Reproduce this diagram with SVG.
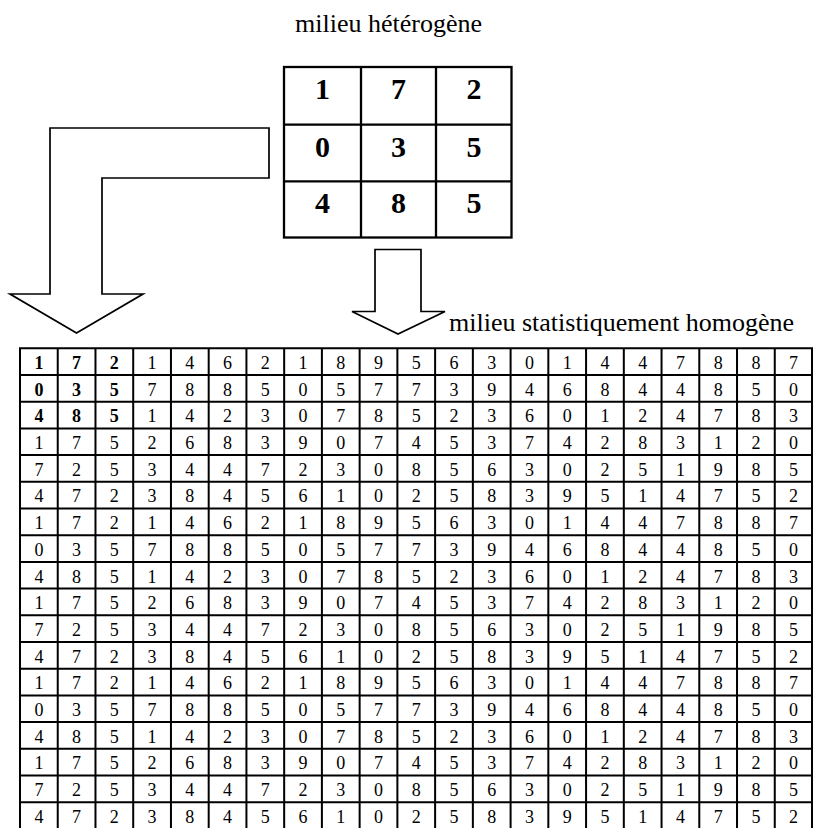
<svg xmlns="http://www.w3.org/2000/svg" width="813" height="828" viewBox="0 0 813 828">
<style>
text{font-family:'Liberation Serif','DejaVu Serif','Noto Serif',serif}
.lbl{font-size:26px;fill:#000}
.big{font-size:30px;font-weight:bold;text-anchor:middle;fill:#000}
.c text{font-size:18px;text-anchor:middle;fill:#000}
.c .b{font-weight:bold}
.grid{fill:none;stroke:#000;stroke-width:2}
.arrow{fill:#fff;stroke:#000;stroke-width:1.7;stroke-linejoin:miter}
</style>
<rect width="813" height="828" fill="#fff"/>

<g id="label-heterogene">
<text class="lbl" x="295" y="32" font-family="Liberation Serif, DejaVu Serif, serif">milieu hétérogène</text>
</g>

<g id="milieu-heterogene" font-family="Liberation Serif, DejaVu Serif, serif">
<rect class="grid" x="284" y="67" width="227.5" height="170.5" style="stroke-width:2.3"/>
<path class="grid" style="stroke-width:2.3" d="M361 67V237.5M436 67V237.5M284 124.7H511.5M284 181.3H511.5"/>
<text class="big" x="322.5" y="98.5">1</text>
<text class="big" x="398.5" y="98.5">7</text>
<text class="big" x="474" y="98.5">2</text>
<text class="big" x="322.5" y="156.5">0</text>
<text class="big" x="398.5" y="156.5">3</text>
<text class="big" x="474" y="156.5">5</text>
<text class="big" x="322.5" y="212.8">4</text>
<text class="big" x="398.5" y="212.8">8</text>
<text class="big" x="474" y="212.8">5</text>
</g>

<g id="connectors">
<polygon id="arrow-bent" class="arrow" points="269,128 50,128 50,294 10,294 76.5,333 143,294 102,294 102,178 269,178"/>
<polygon id="arrow-down" class="arrow" points="375,249.5 421,249.5 421,311.5 445,311.5 398,334 352,311.5 375,311.5"/>
</g>

<g id="label-homogene">
<text class="lbl" x="449" y="331" font-family="Liberation Serif, DejaVu Serif, serif">milieu statistiquement homogène</text>
</g>

<g id="milieu-homogene">
<path class="grid" d="M20 348.3V830M57.74 348.3V830M95.48 348.3V830M133.21 348.3V830M170.95 348.3V830M208.69 348.3V830M246.43 348.3V830M284.17 348.3V830M321.9 348.3V830M359.64 348.3V830M397.38 348.3V830M435.12 348.3V830M472.86 348.3V830M510.6 348.3V830M548.33 348.3V830M586.07 348.3V830M623.81 348.3V830M661.55 348.3V830M699.29 348.3V830M737.02 348.3V830M774.76 348.3V830M812 348.3V830
M19 348.3H813M19 375H813M19 401.7H813M19 428.4H813M19 455.1H813M19 481.8H813M19 508.5H813M19 535.2H813M19 561.9H813M19 588.6H813M19 615.3H813M19 642H813M19 668.7H813M19 695.4H813M19 722.1H813M19 748.8H813M19 775.5H813M19 802.2H813M19 828.9H813"/>
<g class="c" font-family="Liberation Serif, DejaVu Serif, serif">
<g transform="translate(0,368.9)"><text class="b" x="38.9">1</text><text class="b" x="76.6">7</text><text class="b" x="114.3">2</text><text x="152.1">1</text><text x="189.8">4</text><text x="227.6">6</text><text x="265.3">2</text><text x="303">1</text><text x="340.8">8</text><text x="378.5">9</text><text x="416.3">5</text><text x="454">6</text><text x="491.7">3</text><text x="529.5">0</text><text x="567.2">1</text><text x="604.9">4</text><text x="642.7">4</text><text x="680.4">7</text><text x="718.2">8</text><text x="755.9">8</text><text x="793.6">7</text></g>
<g transform="translate(0,395.6)"><text class="b" x="38.9">0</text><text class="b" x="76.6">3</text><text class="b" x="114.3">5</text><text x="152.1">7</text><text x="189.8">8</text><text x="227.6">8</text><text x="265.3">5</text><text x="303">0</text><text x="340.8">5</text><text x="378.5">7</text><text x="416.3">7</text><text x="454">3</text><text x="491.7">9</text><text x="529.5">4</text><text x="567.2">6</text><text x="604.9">8</text><text x="642.7">4</text><text x="680.4">4</text><text x="718.2">8</text><text x="755.9">5</text><text x="793.6">0</text></g>
<g transform="translate(0,422.3)"><text class="b" x="38.9">4</text><text class="b" x="76.6">8</text><text class="b" x="114.3">5</text><text x="152.1">1</text><text x="189.8">4</text><text x="227.6">2</text><text x="265.3">3</text><text x="303">0</text><text x="340.8">7</text><text x="378.5">8</text><text x="416.3">5</text><text x="454">2</text><text x="491.7">3</text><text x="529.5">6</text><text x="567.2">0</text><text x="604.9">1</text><text x="642.7">2</text><text x="680.4">4</text><text x="718.2">7</text><text x="755.9">8</text><text x="793.6">3</text></g>
<g transform="translate(0,449)"><text x="38.9">1</text><text x="76.6">7</text><text x="114.3">5</text><text x="152.1">2</text><text x="189.8">6</text><text x="227.6">8</text><text x="265.3">3</text><text x="303">9</text><text x="340.8">0</text><text x="378.5">7</text><text x="416.3">4</text><text x="454">5</text><text x="491.7">3</text><text x="529.5">7</text><text x="567.2">4</text><text x="604.9">2</text><text x="642.7">8</text><text x="680.4">3</text><text x="718.2">1</text><text x="755.9">2</text><text x="793.6">0</text></g>
<g transform="translate(0,475.7)"><text x="38.9">7</text><text x="76.6">2</text><text x="114.3">5</text><text x="152.1">3</text><text x="189.8">4</text><text x="227.6">4</text><text x="265.3">7</text><text x="303">2</text><text x="340.8">3</text><text x="378.5">0</text><text x="416.3">8</text><text x="454">5</text><text x="491.7">6</text><text x="529.5">3</text><text x="567.2">0</text><text x="604.9">2</text><text x="642.7">5</text><text x="680.4">1</text><text x="718.2">9</text><text x="755.9">8</text><text x="793.6">5</text></g>
<g transform="translate(0,502.4)"><text x="38.9">4</text><text x="76.6">7</text><text x="114.3">2</text><text x="152.1">3</text><text x="189.8">8</text><text x="227.6">4</text><text x="265.3">5</text><text x="303">6</text><text x="340.8">1</text><text x="378.5">0</text><text x="416.3">2</text><text x="454">5</text><text x="491.7">8</text><text x="529.5">3</text><text x="567.2">9</text><text x="604.9">5</text><text x="642.7">1</text><text x="680.4">4</text><text x="718.2">7</text><text x="755.9">5</text><text x="793.6">2</text></g>
<g transform="translate(0,529.1)"><text x="38.9">1</text><text x="76.6">7</text><text x="114.3">2</text><text x="152.1">1</text><text x="189.8">4</text><text x="227.6">6</text><text x="265.3">2</text><text x="303">1</text><text x="340.8">8</text><text x="378.5">9</text><text x="416.3">5</text><text x="454">6</text><text x="491.7">3</text><text x="529.5">0</text><text x="567.2">1</text><text x="604.9">4</text><text x="642.7">4</text><text x="680.4">7</text><text x="718.2">8</text><text x="755.9">8</text><text x="793.6">7</text></g>
<g transform="translate(0,555.8)"><text x="38.9">0</text><text x="76.6">3</text><text x="114.3">5</text><text x="152.1">7</text><text x="189.8">8</text><text x="227.6">8</text><text x="265.3">5</text><text x="303">0</text><text x="340.8">5</text><text x="378.5">7</text><text x="416.3">7</text><text x="454">3</text><text x="491.7">9</text><text x="529.5">4</text><text x="567.2">6</text><text x="604.9">8</text><text x="642.7">4</text><text x="680.4">4</text><text x="718.2">8</text><text x="755.9">5</text><text x="793.6">0</text></g>
<g transform="translate(0,582.5)"><text x="38.9">4</text><text x="76.6">8</text><text x="114.3">5</text><text x="152.1">1</text><text x="189.8">4</text><text x="227.6">2</text><text x="265.3">3</text><text x="303">0</text><text x="340.8">7</text><text x="378.5">8</text><text x="416.3">5</text><text x="454">2</text><text x="491.7">3</text><text x="529.5">6</text><text x="567.2">0</text><text x="604.9">1</text><text x="642.7">2</text><text x="680.4">4</text><text x="718.2">7</text><text x="755.9">8</text><text x="793.6">3</text></g>
<g transform="translate(0,609.2)"><text x="38.9">1</text><text x="76.6">7</text><text x="114.3">5</text><text x="152.1">2</text><text x="189.8">6</text><text x="227.6">8</text><text x="265.3">3</text><text x="303">9</text><text x="340.8">0</text><text x="378.5">7</text><text x="416.3">4</text><text x="454">5</text><text x="491.7">3</text><text x="529.5">7</text><text x="567.2">4</text><text x="604.9">2</text><text x="642.7">8</text><text x="680.4">3</text><text x="718.2">1</text><text x="755.9">2</text><text x="793.6">0</text></g>
<g transform="translate(0,635.9)"><text x="38.9">7</text><text x="76.6">2</text><text x="114.3">5</text><text x="152.1">3</text><text x="189.8">4</text><text x="227.6">4</text><text x="265.3">7</text><text x="303">2</text><text x="340.8">3</text><text x="378.5">0</text><text x="416.3">8</text><text x="454">5</text><text x="491.7">6</text><text x="529.5">3</text><text x="567.2">0</text><text x="604.9">2</text><text x="642.7">5</text><text x="680.4">1</text><text x="718.2">9</text><text x="755.9">8</text><text x="793.6">5</text></g>
<g transform="translate(0,662.6)"><text x="38.9">4</text><text x="76.6">7</text><text x="114.3">2</text><text x="152.1">3</text><text x="189.8">8</text><text x="227.6">4</text><text x="265.3">5</text><text x="303">6</text><text x="340.8">1</text><text x="378.5">0</text><text x="416.3">2</text><text x="454">5</text><text x="491.7">8</text><text x="529.5">3</text><text x="567.2">9</text><text x="604.9">5</text><text x="642.7">1</text><text x="680.4">4</text><text x="718.2">7</text><text x="755.9">5</text><text x="793.6">2</text></g>
<g transform="translate(0,689.3)"><text x="38.9">1</text><text x="76.6">7</text><text x="114.3">2</text><text x="152.1">1</text><text x="189.8">4</text><text x="227.6">6</text><text x="265.3">2</text><text x="303">1</text><text x="340.8">8</text><text x="378.5">9</text><text x="416.3">5</text><text x="454">6</text><text x="491.7">3</text><text x="529.5">0</text><text x="567.2">1</text><text x="604.9">4</text><text x="642.7">4</text><text x="680.4">7</text><text x="718.2">8</text><text x="755.9">8</text><text x="793.6">7</text></g>
<g transform="translate(0,716)"><text x="38.9">0</text><text x="76.6">3</text><text x="114.3">5</text><text x="152.1">7</text><text x="189.8">8</text><text x="227.6">8</text><text x="265.3">5</text><text x="303">0</text><text x="340.8">5</text><text x="378.5">7</text><text x="416.3">7</text><text x="454">3</text><text x="491.7">9</text><text x="529.5">4</text><text x="567.2">6</text><text x="604.9">8</text><text x="642.7">4</text><text x="680.4">4</text><text x="718.2">8</text><text x="755.9">5</text><text x="793.6">0</text></g>
<g transform="translate(0,742.7)"><text x="38.9">4</text><text x="76.6">8</text><text x="114.3">5</text><text x="152.1">1</text><text x="189.8">4</text><text x="227.6">2</text><text x="265.3">3</text><text x="303">0</text><text x="340.8">7</text><text x="378.5">8</text><text x="416.3">5</text><text x="454">2</text><text x="491.7">3</text><text x="529.5">6</text><text x="567.2">0</text><text x="604.9">1</text><text x="642.7">2</text><text x="680.4">4</text><text x="718.2">7</text><text x="755.9">8</text><text x="793.6">3</text></g>
<g transform="translate(0,769.4)"><text x="38.9">1</text><text x="76.6">7</text><text x="114.3">5</text><text x="152.1">2</text><text x="189.8">6</text><text x="227.6">8</text><text x="265.3">3</text><text x="303">9</text><text x="340.8">0</text><text x="378.5">7</text><text x="416.3">4</text><text x="454">5</text><text x="491.7">3</text><text x="529.5">7</text><text x="567.2">4</text><text x="604.9">2</text><text x="642.7">8</text><text x="680.4">3</text><text x="718.2">1</text><text x="755.9">2</text><text x="793.6">0</text></g>
<g transform="translate(0,796.1)"><text x="38.9">7</text><text x="76.6">2</text><text x="114.3">5</text><text x="152.1">3</text><text x="189.8">4</text><text x="227.6">4</text><text x="265.3">7</text><text x="303">2</text><text x="340.8">3</text><text x="378.5">0</text><text x="416.3">8</text><text x="454">5</text><text x="491.7">6</text><text x="529.5">3</text><text x="567.2">0</text><text x="604.9">2</text><text x="642.7">5</text><text x="680.4">1</text><text x="718.2">9</text><text x="755.9">8</text><text x="793.6">5</text></g>
<g transform="translate(0,822.8)"><text x="38.9">4</text><text x="76.6">7</text><text x="114.3">2</text><text x="152.1">3</text><text x="189.8">8</text><text x="227.6">4</text><text x="265.3">5</text><text x="303">6</text><text x="340.8">1</text><text x="378.5">0</text><text x="416.3">2</text><text x="454">5</text><text x="491.7">8</text><text x="529.5">3</text><text x="567.2">9</text><text x="604.9">5</text><text x="642.7">1</text><text x="680.4">4</text><text x="718.2">7</text><text x="755.9">5</text><text x="793.6">2</text></g>
</g>
</g>
</svg>
